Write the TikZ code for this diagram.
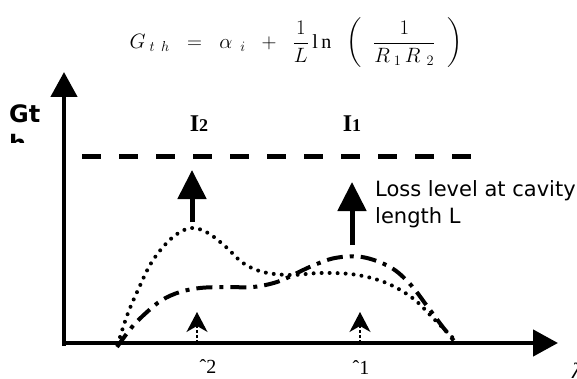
\documentclass[tikz,border=0pt]{standalone}
\usepackage{amsmath}
\usepackage{fontspec}
\setmainfont{Liberation Serif}
\newfontfamily\tahoma{DejaVu Sans}
\usetikzlibrary{arrows.meta,positioning,calc}

\begin{document}
\begin{tikzpicture}[x=1pt,y=-1pt,>=Latex]
  \tikzstyle{axis}=[line width=4.5pt,-{Triangle[length=25pt,width=26pt]}]
  \tikzstyle{lossarrow}=[line width=5pt,-{Triangle[length=29pt,width=28pt]}]
  \tikzstyle{modearrow}=[line width=1.3pt,dash pattern=on 3pt off 2pt,-{Stealth[length=20pt,width=21pt,inset=6pt]}]
  \tikzstyle{modelbl}=[inner sep=0pt,font=\fontsize{20}{20}\selectfont]
  \tikzstyle{intlbl}=[inner sep=0pt,font=\fontsize{24}{24}\selectfont\bfseries]
  \useasboundingbox (0,0) rectangle (577,379);
  % gain threshold formula
  \node[inner sep=0pt,font=\fontsize{20}{24}\selectfont] (eq) at (296,43)
    {$G_{\;t\;\,h}\;\;=\;\;\alpha_{\;\;i}\;\;+\;\;\dfrac{1}{L}\,\mathrm{l\,n}\;\;\left(\;\;\dfrac{1}{R_{\;1}\,R_{\;\,2}}\;\;\right)$};
  % axes
  \coordinate (origin) at (64,343);
  \coordinate (ytop) at (64,72);
  \coordinate (xend) at (558,343);
  \draw[axis] (64,346) -- (ytop);
  \draw[axis] (62,343) -- (xend);
  \node[anchor=base west,inner sep=0pt,font=\tahoma\bfseries\fontsize{24}{24}\selectfont] (gt) at (9,123) {Gt};
  \begin{scope}
    \clip (0,125) rectangle (60,143);
    \node[anchor=base west,inner sep=0pt,font=\tahoma\bfseries\fontsize{24}{24}\selectfont] (gth) at (9,153) {h};
  \end{scope}
  % loss level
  \coordinate (lossL) at (82,157);
  \coordinate (lossR) at (476,157);
  \draw[line width=5pt,dash pattern=on 19pt off 18pt] (lossL) -- (lossR);
  \node[intlbl,anchor=base] (I2) at (199,132) {I\fontsize{18}{18}\selectfont 2};
  \node[intlbl,anchor=base] (I1) at (352,132) {I\fontsize{18}{18}\selectfont 1};
  \coordinate (g2) at (192,222);
  \coordinate (g2t) at (192,170);
  \coordinate (g1) at (352,245);
  \coordinate (g1t) at (352,182);
  \draw[lossarrow] (g2) -- (g2t);
  \draw[lossarrow] (g1) -- (g1t);
  \node[anchor=base west,align=left,inner sep=0pt,font=\tahoma\fontsize{21}{27}\selectfont] (loss) at (375,223)
    {Loss level at cavity\\length L};
  % gain curves
  \draw[line width=4pt,line cap=round,dash pattern=on 0pt off 8pt]
    plot[smooth,tension=0.6] coordinates {(120,337) (128,313) (138,290) (150,265) (163,247) (177,234) (192,228)
      (208,233) (226,247) (243,263) (263,272) (290,275) (320,273) (350,274) (375,279) (395,287)
      (415,300) (433,318) (450,335) (457,342)};
  \draw[line width=4pt,dash pattern=on 16pt off 7pt on 4pt off 7pt]
    plot[smooth,tension=0.6] coordinates {(117,347) (132,327) (147,312) (162,300) (180,292) (200,288)
      (225,287) (253,287) (277,282) (295,274) (312,266) (335,258) (362,257) (390,267) (410,284)
      (427,306) (442,326) (455,342)};
  % mode wavelengths
  \coordinate (m2) at (197,343);
  \coordinate (m2t) at (197,312);
  \coordinate (m1) at (360,343);
  \coordinate (m1t) at (360,312);
  \draw[modearrow] (m2) -- (m2t);
  \draw[modearrow] (m1) -- (m1t);
  \node[modelbl,anchor=base] (lam2) at (208,373) {ˆ2};
  \node[modelbl,anchor=base] (lam1) at (361,374) {ˆ1};
  \node[modelbl,anchor=base west,font=\fontsize{22}{22}\selectfont\itshape] (lam) at (572,378) {λ};
\end{tikzpicture}
\end{document}
